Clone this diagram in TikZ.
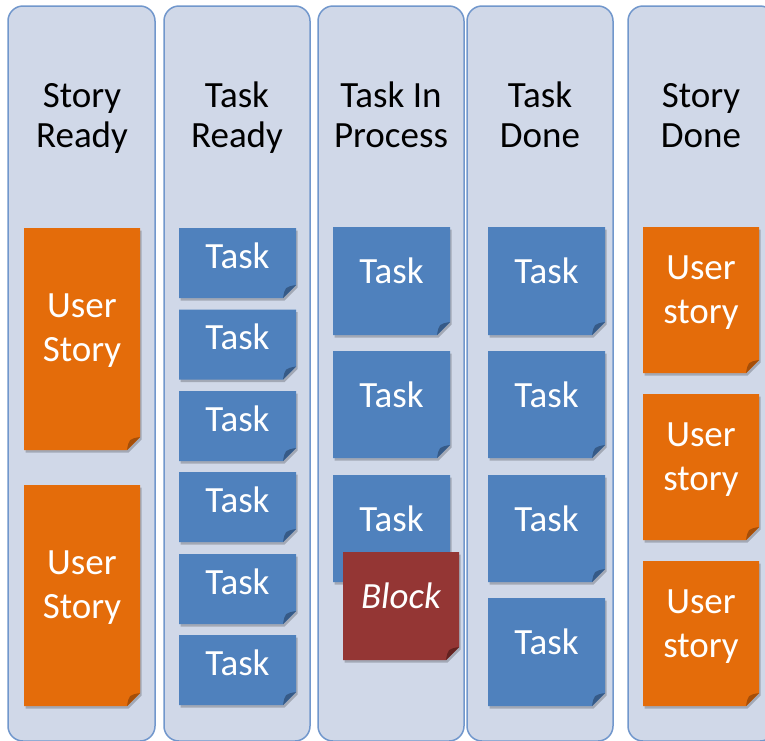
\documentclass[tikz,border=0pt]{standalone}
\usepackage{fontspec}
\setmainfont{Carlito}
\usetikzlibrary{shadows}
\definecolor{colbg}{RGB}{208,216,232}
\definecolor{colborder}{RGB}{113,151,204}
\definecolor{bluenote}{RGB}{79,129,189}
\definecolor{bluenotedk}{RGB}{54,90,135}
\definecolor{orangenote}{RGB}{228,108,10}
\definecolor{orangenotedk}{RGB}{165,78,8}
\definecolor{rednote}{RGB}{148,54,52}
\definecolor{rednotedk}{RGB}{98,34,32}
\newcommand\stickynote[6]{%
  \fill[#6, drop shadow={opacity=0.22,fill=black,shadow xshift=1.5pt,shadow yshift=-2.5pt}]
    (#2,#3) -- (#4,#3) -- (#4,{#5-13}) -- ({#4-13},#5) -- (#2,#5) -- cycle;
  \fill[#6dk] (#4,{#5-13}) .. controls ({#4-11},{#5-11}) .. ({#4-13},#5) -- cycle;
  \coordinate (#1) at ({(#2+#4)/2},{(#3+#5)/2});
}
\begin{document}
\begin{tikzpicture}[x=1pt,y=-1pt,
  column/.style={fill=colbg, draw=colborder, line width=1.5pt, rounded corners=15pt},
  head/.style={font=\fontsize{37}{40}\selectfont, align=center, anchor=base, text=black, inner sep=0pt},
  notetext/.style={font=\fontsize{37}{44}\selectfont, align=center, anchor=base, text=white, inner sep=0pt}]
\useasboundingbox (0,0) rectangle (765,740);
\clip (0,0) rectangle (765,740);
\fill[white] (0,0) rectangle (765,740);
% columns
\draw[column] (8,6) rectangle (155,741);
\draw[column] (164,6) rectangle (310,741);
\draw[column] (318,6) rectangle (464,741);
\draw[column] (467,6) rectangle (613,741);
\draw[column] (628,6) rectangle (775,741);
% headers (base anchor = baseline of last line)
\node[head] (h1) at (82,147) {Story\\Ready};
\node[head] (h2) at (237,147) {Task\\Ready};
\node[head] (h3) at (391,147) {Task In\\Process};
\node[head] (h4) at (540,147) {Task\\Done};
\node[head] (h5) at (701,147) {Story\\Done};
% Story Ready
\stickynote{sr1}{24}{228}{140}{450}{orangenote}
\node[notetext] (sr1t) at (82,361) {User\\Story};
\stickynote{sr2}{24}{485}{140}{706}{orangenote}
\node[notetext] (sr2t) at (82,618) {User\\Story};
% Task Ready
\foreach \t [count=\i] in {228,309.5,391,472,554,635}{
  \stickynote{tr\i}{179}{\t}{296}{\t+70}{bluenote}
  \node[notetext] (tr\i t) at (237.5,\t+40) {Task};
}
% Task In Process
\foreach \t/\b [count=\i] in {227/335,351/458,475/582}{
  \stickynote{tp\i}{333}{\t}{450}{\b}{bluenote}
  \node[notetext] (tp\i t) at (391.5,\t+56) {Task};
}
\stickynote{blk}{343}{552}{459}{660}{rednote}
\node[notetext] (blkt) at (401,608) {\itshape Block};
% Task Done
\foreach \t/\b [count=\i] in {227/335,351/458,475/582,598/706}{
  \stickynote{td\i}{488}{\t}{605}{\b}{bluenote}
  \node[notetext] (td\i t) at (546.5,\t+56) {Task};
}
% Story Done
\foreach \t/\b [count=\i] in {227/373,394/540,561/706}{
  \stickynote{sd\i}{643}{\t}{759}{\b}{orangenote}
  \node[notetext] (sd\i t) at (701,\t+96) {User\\story};
}
\end{tikzpicture}
\end{document}
